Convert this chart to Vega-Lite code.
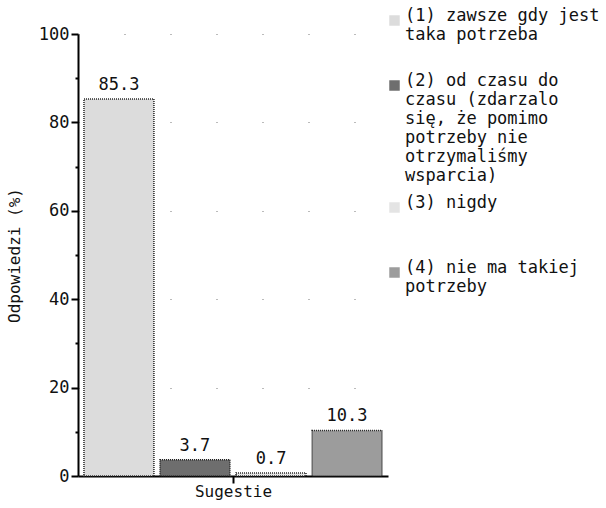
{
  "$schema": "https://vega.github.io/schema/vega-lite/v6.json",
  "autosize": {"type": "none"},
  "width": 310,
  "height": 442,
  "padding": {"left": 78, "top": 34, "right": 218, "bottom": 32},
  "background": "white",
  "config": {
    "view": {"stroke": null},
    "font": "DejaVu Sans Mono",
    "axis": {"labelFont": "DejaVu Sans Mono", "titleFont": "DejaVu Sans Mono", "labelColor": "#111", "titleColor": "#111", "titleFontWeight": "normal"},
    "legend": {"labelFont": "DejaVu Sans Mono"}
  },
  "data": {
    "values": [
      {"grupa": "Sugestie", "kategoria": "(1) zawsze gdy jest|taka potrzeba| ", "procent": 85.3},
      {"grupa": "Sugestie", "kategoria": "(2) od czasu do|czasu (zdarzalo|się, że pomimo|potrzeby nie|otrzymaliśmy|wsparcia)", "procent": 3.7},
      {"grupa": "Sugestie", "kategoria": "(3) nigdy| | ", "procent": 0.7},
      {"grupa": "Sugestie", "kategoria": "(4) nie ma takiej|potrzeby", "procent": 10.3}
    ]
  },
  "encoding": {
    "x": {
      "field": "grupa", "type": "nominal",
      "scale": {"paddingInner": 0, "paddingOuter": 0.02},
      "axis": {"title": null, "labelAngle": 0, "labelFontSize": 16, "labelPadding": 0, "domainColor": "#000", "domainWidth": 2, "tickColor": "#000", "tickWidth": 2, "tickSize": 7, "tickOffset": 0}
    },
    "xOffset": {
      "field": "kategoria", "type": "nominal",
      "scale": {"domain": ["(1) zawsze gdy jest|taka potrzeba| ", "(2) od czasu do|czasu (zdarzalo|się, że pomimo|potrzeby nie|otrzymaliśmy|wsparcia)", "(3) nigdy| | ", "(4) nie ma takiej|potrzeby"], "paddingInner": 0.08, "paddingOuter": 0}
    },
    "y": {
      "field": "procent", "type": "quantitative",
      "scale": {"domain": [0, 100], "nice": false},
      "axis": {
        "title": "Odpowiedzi (%)", "titleFontSize": 16, "titlePadding": 16,
        "values": [0, 10, 20, 30, 40, 50, 60, 70, 80, 90, 100],
        "labelExpr": "datum.value % 20 === 0 ? datum.label : ''",
        "labelFontSize": 17, "labelPadding": 2,
        "domainColor": "#000", "domainWidth": 2,
        "tickColor": "#000", "tickWidth": 2,
        "tickSize": {"condition": {"test": "datum.value % 20 === 0", "value": 7}, "value": 3},
        "grid": true,
        "gridColor": "#777", "gridWidth": 1, "gridDash": [1, 45],
        "gridOpacity": {"condition": {"test": "datum.value % 20 === 0 && datum.value > 0", "value": 1}, "value": 0}
      }
    }
  },
  "layer": [
    {
      "mark": {"type": "bar", "stroke": "#222", "strokeWidth": 1.5, "strokeDash": [1, 1]},
      "encoding": {
        "color": {
          "field": "kategoria", "type": "nominal",
          "scale": {"domain": ["(1) zawsze gdy jest|taka potrzeba| ", "(2) od czasu do|czasu (zdarzalo|się, że pomimo|potrzeby nie|otrzymaliśmy|wsparcia)", "(3) nigdy| | ", "(4) nie ma takiej|potrzeby"], "range": ["#dcdcdc", "#6e6e6e", "#e4e4e4", "#9c9c9c"]},
          "legend": {
            "title": null, "orient": "none", "legendX": 308, "legendY": -22,
            "labelExpr": "split(datum.label, '|')",
            "labelFontSize": 17, "labelColor": "#111", "labelLimit": 300,
            "labelBaseline": "alphabetic", "labelOffset": 2,
            "symbolType": "square", "symbolSize": 110, "symbolStrokeWidth": 0,
            "rowPadding": 9, "padding": 0
          }
        }
      }
    },
    {
      "mark": {"type": "text", "baseline": "bottom", "dy": -5, "fontSize": 17, "color": "#111"},
      "encoding": {"text": {"field": "procent", "type": "quantitative", "format": ".1f"}}
    }
  ]
}
